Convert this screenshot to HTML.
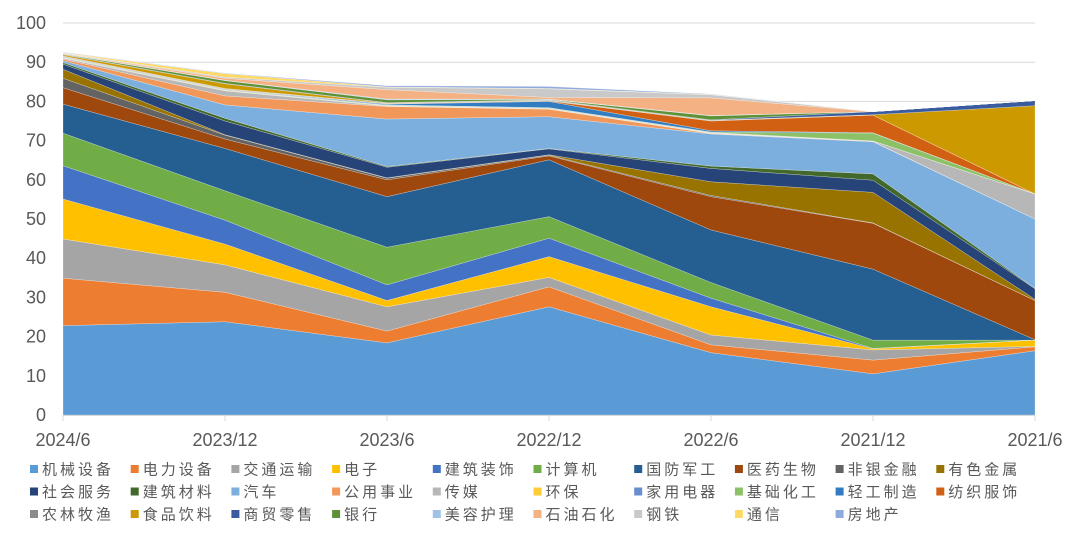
<!DOCTYPE html>
<html><head><meta charset="utf-8">
<style>
html,body{margin:0;padding:0;background:#fff;}
svg{display:block;font-family:"Liberation Sans","Noto Sans CJK SC",sans-serif;}
</style></head>
<body>
<svg id="chart" width="1080" height="533" viewBox="0 0 1080 533" xmlns="http://www.w3.org/2000/svg">
<g id="grid"></g>
<g id="areas"></g>
<g id="yaxis"></g>
<g id="xaxis"></g>
<g id="legend"></g>
</svg>
<script>
const categories = ["2024/6","2023/12","2023/6","2022/12","2022/6","2021/12","2021/6"];
const yTicks = [0,10,20,30,40,50,60,70,80,90,100];
const seriesNames = ["机械设备","电力设备","交通运输","电子","建筑装饰","计算机","国防军工","医药生物","非银金融","有色金属","社会服务","建筑材料","汽车","公用事业","传媒","环保","家用电器","基础化工","轻工制造","纺织服饰","农林牧渔","食品饮料","商贸零售","银行","美容护理","石油石化","钢铁","通信","房地产"];
const seriesColors = ["#5B9BD5","#ED7D31","#A5A5A5","#FFC000","#4472C4","#70AD47","#255E91","#9E480E","#636363","#997300","#264478","#43682B","#7CAFDD","#F1975A","#B7B7B7","#FFCD33","#698ED0","#8CC168","#327DC2","#D26012","#8B8B8B","#CC9A00","#3A5BA0","#5F9238","#9DC3E6","#F4B183","#C9C9C9","#FFD966","#8FAADC"];
const s_jixie   = [22.8,23.8,18.4,27.6,15.9,10.5,16.4];
const s_dianli  = [12.1,7.5,3.0,5.1,2.0,3.5,1.0];
const s_jiaotong= [10.0,7.0,6.2,2.4,2.5,2.6,0.1];
const s_dianzi  = [10.2,5.3,1.6,5.3,7.2,0.3,1.6];
const s_jianzhu = [8.5,6.1,4.0,4.7,2.2,0.1,0];
const s_jisuanji= [8.3,7.5,9.6,5.5,4.0,2.1,0];
const s_guofang = [7.4,10.8,12.9,14.5,13.4,18.1,0.1];
const s_yiyao   = [4.2,2.4,4.3,1.0,8.5,11.7,10.0];
const s_feiyin  = [2.4,1.0,0.4,0.2,0.3,0.1,0];
const s_youse   = [2.3,0.1,0.1,0.1,3.5,7.8,0.3];
const s_shehui  = [1.3,3.5,2.7,1.5,3.4,3.1,2.7];
const s_jiancai = [0.4,0.7,0.2,0.1,0.6,1.6,0.1];
const s_qiche   = [0.5,3.4,12.1,8.1,8.2,8.2,17.7];
const s_gongyong= [0.4,2.3,3.2,1.9,0.1,0.1,0];
const s_chuanmei= [0.2,1.3,0.1,0.1,0.1,0.1,6.4];
const s_huanbao = [0.1,0.1,0.1,0.1,0.1,0,0];
const s_jiadian = [0.1,0.1,0.1,0.1,0.1,0,0];
const s_jihua   = [0.1,0.1,0.1,0.1,0.1,2.0,0];
const s_qinggong= [0.1,0.1,0.2,1.6,0.3,0.1,0];
const s_fangzhi = [0.1,0.1,0.1,0.1,2.5,4.5,0];
const s_nonglin = [0.1,0.1,0.1,0.1,0.1,0,0];
const s_shipin  = [0.3,1.2,0.1,0.1,0.1,0.1,22.5];
const s_shangmao= [0.1,0.1,0.1,0.1,0.1,0.8,1.3];
const s_yinhang = [0.1,0.7,0.7,0.1,1.0,0,0];
const s_meirong = [0.1,0.1,0.2,0.1,0.1,0,0];
const s_shiyou  = [0.1,0.5,2.4,0.4,4.5,0,0];
const s_gangtie = [0.1,0.3,0.6,2.2,0.8,0,0];
const s_tongxin = [0.1,0.9,0.1,0.1,0.1,0,0];
const s_fangdichan=[0.1,0.1,0.3,0.5,0.1,0,0];
const seriesValues = [s_jixie,s_dianli,s_jiaotong,s_dianzi,s_jianzhu,s_jisuanji,s_guofang,s_yiyao,s_feiyin,s_youse,s_shehui,s_jiancai,s_qiche,s_gongyong,s_chuanmei,s_huanbao,s_jiadian,s_jihua,s_qinggong,s_fangzhi,s_nonglin,s_shipin,s_shangmao,s_yinhang,s_meirong,s_shiyou,s_gangtie,s_tongxin,s_fangdichan];

const NS="http://www.w3.org/2000/svg";
const X0=63, X1=1035, Y0=415, Y100=23;
const xScale=i=>X0+(X1-X0)*i/(categories.length-1);
const yScale=v=>Y0-(Y0-Y100)*v/100;
function mk(tag,attrs,parent){const e=document.createElementNS(NS,tag);for(const k in attrs)e.setAttribute(k,attrs[k]);parent.appendChild(e);return e;}

const grid=document.getElementById('grid');
yTicks.forEach(t=>{if(t===0)return;const l=mk('line',{x1:X0,x2:X1,y1:yScale(t),y2:yScale(t),stroke:'#D9D9D9','stroke-width':1},grid);

});

const areas=document.getElementById('areas');
let base=categories.map(()=>0);
seriesValues.forEach((vals,si)=>{
  const top=base.map((b,i)=>b+vals[i]);
  let d='M'+categories.map((c,i)=>xScale(i)+','+yScale(top[i])).join(' L');
  for(let i=categories.length-1;i>=0;i--)d+=' L'+xScale(i)+','+yScale(base[i]);
  d+=' Z';
  const p=mk('path',{d:d,fill:seriesColors[si],stroke:'#fff','stroke-width':0.4,'stroke-opacity':0.6},areas);
  
  
  base=top;
});

const yaxis=document.getElementById('yaxis');
yTicks.forEach(t=>{const tx=mk('text',{x:46,y:yScale(t)+6,'text-anchor':'end','font-size':18,fill:'#595959'},yaxis);tx.textContent=t;

});

const xaxis=document.getElementById('xaxis');
const ax=mk('line',{x1:X0,x2:X1,y1:Y0+0.5,y2:Y0+0.5,stroke:'#D9D9D9','stroke-width':1},xaxis);


categories.forEach((c,i)=>{
  const tk=mk('line',{x1:xScale(i),x2:xScale(i),y1:Y0,y2:Y0+6,stroke:'#D9D9D9'},xaxis);
  
  
  const tx=mk('text',{x:xScale(i),y:446,'text-anchor':'middle','font-size':18,fill:'#595959'},xaxis);
  tx.textContent=c;
  
  
});

const legend=document.getElementById('legend');
seriesNames.forEach((n,i)=>{
  const col=i%10,row=Math.floor(i/10);
  const x=30+col*100.7, y=469+row*22.5;
  const g=mk('g',{},legend);
  
  
  mk('rect',{x:x,y:y-4,width:8,height:8,fill:seriesColors[i]},g);
  const tx=mk('text',{x:x+12,y:y+5.5,'font-size':15,fill:'#595959','letter-spacing':3},g);
  tx.textContent=n;
});
</script>
</body></html>
